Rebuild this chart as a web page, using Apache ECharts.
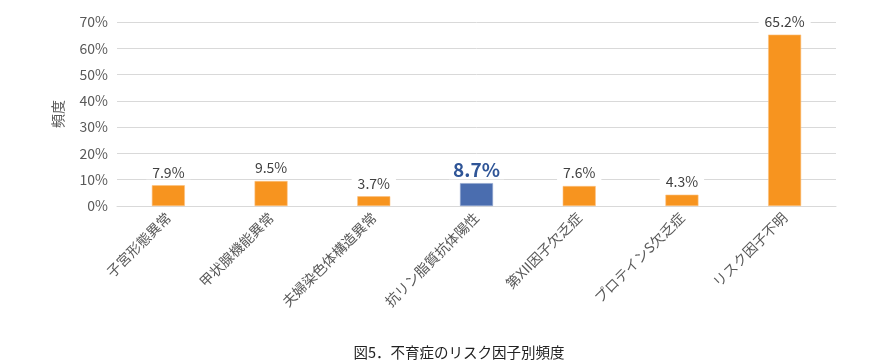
<!DOCTYPE html>
<html><head><meta charset="utf-8">
<script src="https://cdn.jsdelivr.net/npm/echarts@6/dist/echarts.min.js"></script>
<style>html,body{margin:0;padding:0;background:#fff}#c{width:880px;height:363px}</style>
</head><body><div id="c"></div>
<script>
const categories = ['子宮形態異常','甲状腺機能異常','夫婦染色体構造異常','抗リン脂質抗体陽性','第XII因子欠乏症','プロテインS欠乏症','リスク因子不明'];
const values = [7.9, 9.5, 3.7, 8.7, 7.6, 4.3, 65.2];
const highlightIndex = 3;
const yTicks = [0, 10, 20, 30, 40, 50, 60, 70];
const FONT = '"Noto Sans CJK JP", "Noto Sans", sans-serif';
const chart = echarts.init(document.getElementById('c'), null, {renderer: 'canvas'});
chart.setOption({
  animation: false,
  textStyle: {fontFamily: FONT},
  title: {
    text: '図5．不育症のリスク因子別頻度',
    left: 454, top: 340, textAlign: 'center',
    textStyle: {fontSize: 14.5, fontWeight: 'normal', color: '#222', fontFamily: FONT}
  },
  grid: {left: 117, right: 44, top: 22, bottom: 157},
  xAxis: {
    type: 'category', data: categories,
    axisLine: {lineStyle: {color: '#d9d9d9', width: 1}},
    axisTick: {show: false},
    axisLabel: {rotate: 45, color: '#595959', fontSize: 14, margin: 9, fontFamily: FONT, interval: 0}
  },
  yAxis: {
    type: 'value', min: yTicks[0], max: yTicks[yTicks.length - 1], interval: 10,
    name: '頻度', nameLocation: 'middle', nameGap: 52, nameRotate: 90,
    nameTextStyle: {color: '#595959', fontSize: 14, fontFamily: FONT},
    axisLine: {show: false}, axisTick: {show: false},
    axisLabel: {formatter: v => v + '%', color: '#595959', fontSize: 14, margin: 9, fontFamily: FONT},
    splitLine: {lineStyle: {color: '#d9d9d9', width: 1}}
  },
  series: [{
    type: 'bar', barWidth: 33,
    data: values.map((v, i) => ({
      value: v,
      itemStyle: {color: i === highlightIndex ? '#4a6daf' : '#f7941f', borderColor: i === highlightIndex ? '#8ea4cf' : '#fbc17f', borderWidth: 0.6},
      label: i === highlightIndex
        ? {color: '#2f5597', fontSize: 19, fontWeight: 'bold', backgroundColor: '#fff', padding: [0, 4, 0, 4], distance: 4}
        : {color: '#404040', fontSize: 14, backgroundColor: '#fff', padding: [0, 6, 0, 6], distance: 6}
    })),
    label: {show: true, position: 'top', formatter: p => p.value.toFixed(1) + '%', fontFamily: FONT}
  }]
});
</script></body></html>
